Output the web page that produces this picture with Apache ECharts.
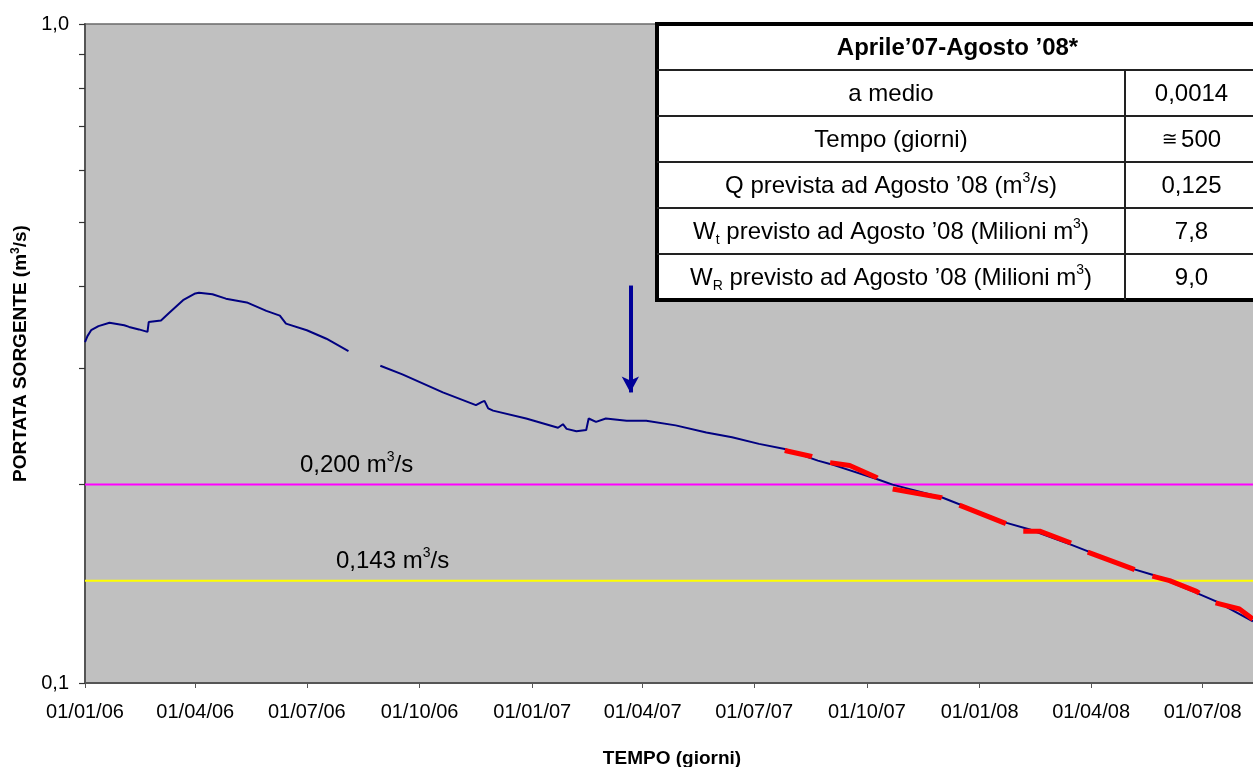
<!DOCTYPE html>
<html>
<head>
<meta charset="utf-8">
<script src="https://cdn.jsdelivr.net/npm/echarts@6/dist/echarts.min.js"></script>
<style>
  html, body { margin: 0; padding: 0; background: #fff; }
  #chart { width: 1253px; height: 767px; }
</style>
</head>
<body>
<div id="chart"></div>
<script>
// Spring discharge record (m3/s), daily gauge readings
const flowDates = [
  '2006-01-01','2006-01-03','2006-01-06','2006-01-12','2006-01-21','2006-02-02','2006-02-06',
  '2006-02-14','2006-02-21','2006-02-22','2006-03-04','2006-03-11','2006-03-22','2006-04-01',
  '2006-04-04','2006-04-15','2006-04-26','2006-05-13','2006-05-29','2006-06-09','2006-06-14',
  '2006-07-01','2006-07-17','2006-08-04','2006-08-17','2006-08-30','2006-09-17','2006-10-20',
  '2006-11-16','2006-11-21','2006-11-23','2006-11-26','2006-11-30','2006-12-27','2007-01-22',
  '2007-01-26','2007-01-29','2007-02-06','2007-02-14','2007-02-16','2007-02-22','2007-03-02',
  '2007-03-19','2007-04-04','2007-04-28','2007-05-23','2007-06-13','2007-07-05','2007-07-26',
  '2007-08-22','2007-09-01','2007-10-09','2007-10-22','2007-12-02','2008-01-23','2008-02-11',
  '2008-03-16','2008-05-05','2008-05-21','2008-06-23','2008-07-12','2008-08-11'
];
const flowValues = [
  0.329, 0.336, 0.343, 0.348, 0.352, 0.349, 0.347,
  0.344, 0.341, 0.353, 0.355, 0.365, 0.381, 0.390,
  0.391, 0.389, 0.383, 0.378, 0.367, 0.361, 0.351,
  0.343, 0.333, 0.319, null, 0.303, 0.294, 0.276,
  0.264, 0.267, 0.268, 0.261, 0.259, 0.252, 0.244,
  0.247, 0.243, 0.241, 0.242, 0.252, 0.249, 0.252,
  0.250, 0.250, 0.246, 0.240, 0.236, 0.2306, 0.2265,
  0.2175, 0.215, 0.204, 0.200, 0.191, 0.175, 0.171,
  0.162, 0.149, 0.146, 0.1377, 0.133, 0.124
];

// Recession forecast, April '07 - August '08
const trendDates = [
  '2007-07-26','2007-08-17','2007-09-01','2007-09-17','2007-10-09','2007-10-22','2007-12-01',
  '2007-12-16','2008-01-21','2008-02-05','2008-02-19','2008-03-16','2008-03-29','2008-05-05',
  '2008-05-20','2008-06-04','2008-06-26','2008-07-11','2008-07-31','2008-08-11'
];
const trendValues = [
  0.2253, 0.2206, 0.216, 0.2138, 0.205, 0.197, 0.191,
  0.186, 0.175, 0.170, 0.170, 0.163, 0.158, 0.149,
  0.1454, 0.143, 0.1377, 0.1324, 0.1295, 0.125
];

// Reference discharges
const thresholdValues = [0.200, 0.143];
const thresholdLabels = ['0,200 m', '0,143 m'];

// Arrow marking the start of the forecast window
const arrowDate = '2007-03-22';
const arrowFrom = 0.401;
const arrowTo = 0.276;

// Axis ticks
const tickDates = [
  '2006-01-01','2006-04-01','2006-07-01','2006-10-01','2007-01-01','2007-04-01',
  '2007-07-01','2007-10-01','2008-01-01','2008-04-01','2008-07-01'
];
const xMin = '2006-01-01';
const xMax = '2008-08-16';
const yMajorTicks = [0.1, 1.0];
const yMinorTicks = [0.2, 0.3, 0.4, 0.5, 0.6, 0.7, 0.8, 0.9];

// Summary table
const tableTitle = 'Aprile\u201907-Agosto \u201908*';
const tableRows = [
  ['{n|a medio}', '{n|0,0014}'],
  ['{n|Tempo (giorni)}', '{sym|\u2245} {n|500}'],
  ['{n|Q prevista ad Agosto \u201908 (m}{sup|3}{n|/s)}', '{n|0,125}'],
  ['{n|W}{sub|t}{n| previsto ad Agosto \u201908 (Milioni m}{sup|3}{n|)}', '{n|7,8}'],
  ['{n|W}{sub|R}{n| previsto ad Agosto \u201908 (Milioni m}{sup|3}{n|)}', '{n|9,0}']
];

const FONT = '"Liberation Sans", Arial, sans-serif';

function ts(s) {
  const p = s.split('-').map(Number);
  return new Date(p[0], p[1] - 1, p[2]).getTime();
}
function pad(n) { return (n < 10 ? '0' : '') + n; }
function fmtDate(v) {
  const d = new Date(Math.round(v));
  return pad(d.getDate()) + '/' + pad(d.getMonth() + 1) + '/' + String(d.getFullYear()).slice(2);
}

const flowData = flowDates.map((d, i) => [ts(d), flowValues[i]]);
const trendData = trendDates.map((d, i) => [ts(d), trendValues[i]]);
const tickTs = tickDates.map(ts);

const richText = {
  n: { fontSize: 24, fontFamily: FONT, lineHeight: 30, color: '#000' },
  sup: { fontSize: 14, fontFamily: FONT, verticalAlign: 'top', lineHeight: 14, color: '#000' },
  sub: { fontSize: 14, fontFamily: FONT, verticalAlign: 'bottom', lineHeight: 14, color: '#000' },
  sym: { fontSize: 19, fontFamily: 'DejaVu Sans', color: '#000' }
};

// Table geometry
const T = { left: 657, right: 1258, top: 24, rowH: 46, split: 1125 };
const nRows = tableRows.length + 1;
const tableEls = [];
tableEls.push({
  type: 'rect',
  shape: { x: T.left, y: T.top, width: T.right - T.left, height: T.rowH * nRows },
  style: { fill: '#fff', stroke: '#000', lineWidth: 4 }
});
for (let r = 1; r < nRows; r++) {
  const y = T.top + r * T.rowH;
  tableEls.push({
    type: 'line',
    shape: { x1: T.left, y1: y, x2: T.right, y2: y },
    style: { stroke: '#222', lineWidth: 2 }
  });
}
tableEls.push({
  type: 'line',
  shape: { x1: T.split, y1: T.top + T.rowH, x2: T.split, y2: T.top + T.rowH * nRows },
  style: { stroke: '#222', lineWidth: 2 }
});
tableEls.push({
  type: 'text',
  x: (T.left + T.right) / 2, y: T.top + T.rowH / 2 + 1,
  style: {
    text: tableTitle, fontSize: 24, fontWeight: 'bold', fontFamily: FONT,
    fill: '#000', align: 'center', verticalAlign: 'middle'
  }
});
tableRows.forEach((row, i) => {
  const cy = T.top + (i + 1.5) * T.rowH + 1;
  tableEls.push({
    type: 'text', x: (T.left + T.split) / 2, y: cy,
    style: { text: row[0], rich: richText, fill: '#000', align: 'center', verticalAlign: 'middle' }
  });
  tableEls.push({
    type: 'text', x: (T.split + T.right) / 2, y: cy,
    style: { text: row[1], rich: richText, fill: '#000', align: 'center', verticalAlign: 'middle' }
  });
});

const chart = echarts.init(document.getElementById('chart'), null, { renderer: 'canvas' });

const option = {
  animation: false,
  backgroundColor: '#fff',
  textStyle: { fontFamily: FONT },
  grid: {
    left: 85, top: 24, right: -6, bottom: 84,
    outerBoundsMode: 'none', containLabel: false,
    show: true, backgroundColor: '#C0C0C0', borderColor: '#6a6a6a', borderWidth: 1.5
  },
  xAxis: {
    type: 'value',
    min: ts(xMin), max: ts(xMax),
    axisLine: { show: true, onZero: false, lineStyle: { color: '#555', width: 2 } },
    axisTick: { show: true, customValues: tickTs, length: 5, lineStyle: { color: '#555', width: 1 } },
    axisLabel: {
      customValues: tickTs, formatter: fmtDate, color: '#000',
      fontSize: 20, fontFamily: FONT, margin: 19
    },
    splitLine: { show: false },
    name: 'TEMPO (giorni)', nameLocation: 'middle', nameGap: 66,
    nameTextStyle: { fontSize: 19, fontWeight: 'bold', color: '#000', fontFamily: FONT }
  },
  yAxis: {
    type: 'log', logBase: 10, min: 0.1, max: 1,
    axisLine: { show: true, lineStyle: { color: '#555', width: 2 } },
    axisTick: { show: true, customValues: yMajorTicks.concat(yMinorTicks), length: 6, lineStyle: { color: '#333', width: 1.2 } },
    axisLabel: {
      customValues: yMajorTicks,
      formatter: v => Number(v).toFixed(1).replace('.', ','),
      color: '#000', fontSize: 20, fontFamily: FONT, margin: 16
    },
    splitLine: { show: false },
    name: '{b|PORTATA SORGENTE (m}{s|3}{b|/s)}',
    nameLocation: 'middle', nameGap: 52, nameRotate: 90,
    nameTextStyle: {
      rich: {
        b: { fontSize: 19, fontWeight: 'bold', fontFamily: FONT, color: '#000', lineHeight: 22 },
        s: { fontSize: 12, fontWeight: 'bold', fontFamily: FONT, color: '#000', verticalAlign: 'top', lineHeight: 12 }
      }
    }
  },
  series: [
    {
      name: 'soglia 0,200', type: 'line', symbol: 'none', silent: true, z: 1,
      data: [[ts(xMin), thresholdValues[0]], [ts(xMax), thresholdValues[0]]],
      lineStyle: { color: '#FF00FF', width: 2 }
    },
    {
      name: 'soglia 0,143', type: 'line', symbol: 'none', silent: true, z: 1,
      data: [[ts(xMin), thresholdValues[1]], [ts(xMax), thresholdValues[1]]],
      lineStyle: { color: '#FFFF00', width: 2 }
    },
    {
      name: 'Portata', type: 'line', symbol: 'none', z: 3,
      connectNulls: false,
      data: flowData,
      lineStyle: { color: '#000080', width: 2 },
      markLine: {
        silent: true, animation: false,
        symbol: ['none', 'arrow'], symbolSize: [13, 16],
        label: { show: false },
        lineStyle: { color: '#000099', width: 4, type: 'solid' },
        data: [[
          { coord: [ts(arrowDate), arrowFrom] },
          { coord: [ts(arrowDate), arrowTo] }
        ]]
      }
    },
    {
      name: 'Previsione', type: 'line', symbol: 'none', z: 4,
      data: trendData,
      lineStyle: { color: '#FF0000', width: 5, type: [50, 19], dashOffset: 22, cap: 'butt' }
    }
  ],
  graphic: [
    {
      type: 'text', x: 300, y: 465, z: 50,
      style: {
        text: '{n|' + thresholdLabels[0] + '}{sup|3}{n|/s}',
        rich: richText, fill: '#000', align: 'left', verticalAlign: 'middle'
      }
    },
    {
      type: 'text', x: 336, y: 561, z: 50,
      style: {
        text: '{n|' + thresholdLabels[1] + '}{sup|3}{n|/s}',
        rich: richText, fill: '#000', align: 'left', verticalAlign: 'middle'
      }
    },
    { type: 'group', z: 100, children: tableEls }
  ]
};

chart.setOption(option);
</script>
</body>
</html>
